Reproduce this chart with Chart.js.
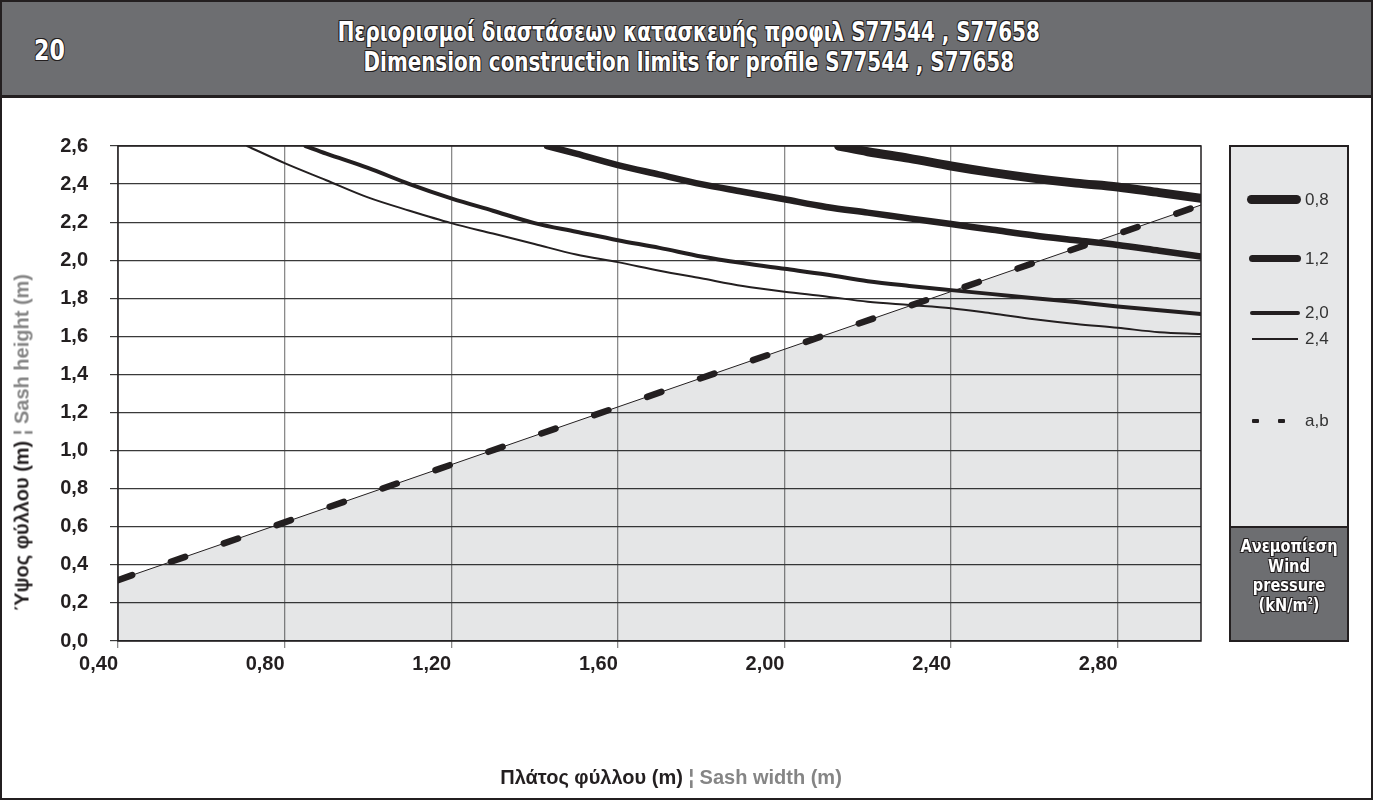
<!DOCTYPE html>
<html>
<head>
<meta charset="utf-8">
<script src="https://cdn.jsdelivr.net/npm/chart.js@4.4.1/dist/chart.umd.min.js"></script>
<style>
  body { margin: 0; width: 1373px; height: 800px; position: relative; background: #fff; overflow: hidden; }
  #frame { position: absolute; left: 0; top: 0; width: 1373px; height: 800px; box-sizing: border-box; border: 2px solid #231f20; }
  #header { position: absolute; left: 0; top: 0; width: 1373px; height: 98px; box-sizing: border-box;
            background: #6d6e71; border: 2px solid #231f20; border-bottom-width: 3px; }
  .outline { color: #fff; font-family: "Liberation Sans Narrow", "DejaVu Sans Condensed", sans-serif; font-weight: bold;
             text-shadow: -1px -1px 0 #231f20, 1px -1px 0 #231f20, -1px 1px 0 #231f20, 1px 1px 0 #231f20, 0 1px 0 #231f20, 0 -1px 0 #231f20; }
  #num { position: absolute; left: 32px; top: 31px; font-size: 29px; transform: scaleX(0.85); transform-origin: left center; }
  #title { position: absolute; left: 0; width: 1373px; top: 15px; text-align: center; font-size: 27px; line-height: 30px;
           transform: scaleX(0.82); transform-origin: 688px 0; }
  #wrap { position: absolute; left: 0; top: 0; }
  #ytitle { position: absolute; left: 22px; top: 443px; width: 460px; margin-left: -230px; margin-top: -12px; text-align: center;
            transform: rotate(-90deg); font: bold 20px "Liberation Sans", Arial, sans-serif; white-space: nowrap; }
  #xtitle { position: absolute; left: 671px; top: 766px; width: 500px; margin-left: -250px; text-align: center;
            font: bold 20px "Liberation Sans", Arial, sans-serif; white-space: nowrap; }
  .dk { color: #231f20; }
  .gr { color: #858585; }
  #legend { position: absolute; left: 1229px; top: 145px; width: 120px; height: 497px; box-sizing: border-box;
            border: 2px solid #231f20; background: #e6e7e8; }
  #legfoot { position: absolute; left: 0; bottom: 0; width: 116px; height: 114px; box-sizing: border-box; border-top: 2px solid #231f20;
             background: #6d6e71; text-align: center; font-size: 18px; line-height: 19.5px; padding-top: 8px; }
  #legfoot div { transform: scaleX(0.9); }
  .ls { position: absolute; background: #231f20; border-radius: 6px; }
  .ll { position: absolute; font: 17px "Liberation Sans", Arial, sans-serif; color: #333; transform: translateY(-50%); }
</style>
</head>
<body>
<div id="wrap"><canvas id="chart" width="1373" height="800"></canvas></div>
<div id="frame"></div>
<div id="header">
  <div id="num" class="outline">20</div>
  <div id="title" class="outline">Περιορισμοί διαστάσεων κατασκευής προφιλ S77544 , S77658<br>Dimension construction limits for profile S77544 , S77658</div>
</div>
<div id="ytitle"><span class="dk">Ύψος φύλλου (m)</span> <span class="gr">¦ Sash height (m)</span></div>
<div id="xtitle"><span class="dk">Πλάτος φύλλου (m)</span> <span class="gr">¦ Sash width (m)</span></div>
<div id="legend">
  <div class="ls" style="left:16px;top:48px;width:54px;height:9px;"></div>
  <div class="ll" style="left:74px;top:53px;">0,8</div>
  <div class="ls" style="left:18px;top:108px;width:52px;height:7px;"></div>
  <div class="ll" style="left:74px;top:112px;">1,2</div>
  <div class="ls" style="left:19px;top:164px;width:50px;height:4px;"></div>
  <div class="ll" style="left:74px;top:166px;">2,0</div>
  <div class="ls" style="left:21px;top:191px;width:46px;height:2px;border-radius:0;"></div>
  <div class="ll" style="left:74px;top:192px;">2,4</div>
  <div class="ls" style="left:21px;top:272px;width:7px;height:4px;border-radius:1px;"></div>
  <div class="ls" style="left:47px;top:272px;width:7px;height:4px;border-radius:1px;"></div>
  <div class="ll" style="left:74px;top:274px;">a,b</div>
  <div id="legfoot" class="outline"><div>Ανεμοπίεση</div><div>Wind</div><div>pressure</div><div>(kN/m<sup style="font-size:9px;line-height:0;">2</sup>)</div></div>
</div>
<script>
// wind pressure curves (kN/m2): sash width -> max sash height
const widths08 = [2.13, 2.20, 2.30, 2.40, 2.50, 2.60, 2.70, 2.80, 2.90, 3.00];
const heights08 = [2.60, 2.57, 2.535, 2.495, 2.46, 2.43, 2.405, 2.385, 2.355, 2.325];

const widths12 = [1.43, 1.50, 1.60, 1.70, 1.80, 1.90, 2.00, 2.10, 2.20, 2.30, 2.40, 2.50, 2.60, 2.70, 2.80, 2.90, 3.00];
const heights12 = [2.60, 2.56, 2.50, 2.45, 2.40, 2.36, 2.32, 2.28, 2.25, 2.22, 2.19, 2.16, 2.13, 2.105, 2.08, 2.05, 2.02];

const widths20 = [0.85, 0.90, 1.00, 1.10, 1.20, 1.30, 1.40, 1.50, 1.60, 1.70, 1.80, 1.90, 2.00, 2.10, 2.20, 2.30, 2.40, 2.50, 2.60, 2.70, 2.80, 2.90, 3.00];
const heights20 = [2.60, 2.56, 2.485, 2.40, 2.325, 2.26, 2.195, 2.15, 2.105, 2.065, 2.02, 1.985, 1.955, 1.925, 1.89, 1.865, 1.843, 1.822, 1.80, 1.78, 1.757, 1.737, 1.717];

const widths24 = [0.71, 0.80, 0.90, 1.00, 1.10, 1.20, 1.30, 1.40, 1.50, 1.60, 1.70, 1.80, 1.90, 2.00, 2.10, 2.20, 2.30, 2.40, 2.50, 2.60, 2.70, 2.80, 2.90, 3.00];
const heights24 = [2.60, 2.51, 2.42, 2.33, 2.26, 2.195, 2.14, 2.085, 2.03, 1.99, 1.945, 1.905, 1.865, 1.835, 1.81, 1.782, 1.765, 1.748, 1.72, 1.69, 1.665, 1.645, 1.622, 1.612];

// a,b limit line
const widthsAB = [0.40, 3.00];
const heightsAB = [0.32, 2.29];

const xTicks = [0.40, 0.80, 1.20, 1.60, 2.00, 2.40, 2.80];
const yTicks = [0.0, 0.2, 0.4, 0.6, 0.8, 1.0, 1.2, 1.4, 1.6, 1.8, 2.0, 2.2, 2.4, 2.6];

function pts(xs, ys) {
  return xs.map((x, i) => ({ x: x, y: ys[i] }));
}

function curve(label, xs, ys, w, order) {
  return {
    label: label,
    data: pts(xs, ys),
    showLine: true,
    borderColor: "#231f20",
    borderWidth: w,
    borderCapStyle: "round",
    borderJoinStyle: "round",
    pointRadius: 0,
    cubicInterpolationMode: "monotone",
    fill: false,
    order: order
  };
}

const frameBox = {
  id: "frameBox",
  beforeDatasetsDraw(chart) {
    const a = chart.chartArea, ctx = chart.ctx;
    ctx.save();
    ctx.strokeStyle = "#231f20";
    ctx.lineWidth = 1.5;
    ctx.strokeRect(a.left, a.top, a.right - a.left, a.bottom - a.top);
    ctx.restore();
  }
};

const grafico = new Chart(document.getElementById("chart"), {
  type: "scatter",
  data: {
    datasets: [
      {
        label: "area",
        data: pts(widthsAB, heightsAB),
        showLine: true,
        borderColor: "#231f20",
        borderWidth: 1,
        pointRadius: 0,
        fill: "origin",
        backgroundColor: "rgba(0,10,20,0.1)",
        order: 10
      },
      {
        label: "a,b",
        data: pts(widthsAB, heightsAB),
        showLine: true,
        borderColor: "#231f20",
        borderWidth: 6.5,
        borderDash: [15, 41],
        borderCapStyle: "round",
        pointRadius: 0,
        fill: false,
        order: 1
      },
      curve("2,4", widths24, heights24, 2, 4),
      curve("2,0", widths20, heights20, 4, 3),
      curve("1,2", widths12, heights12, 6.5, 2),
      curve("0,8", widths08, heights08, 9, 0)
    ]
  },
  options: {
    responsive: false,
    animation: false,
    layout: { padding: { left: 0, top: 146, right: 172, bottom: 119 } },
    plugins: { legend: { display: false }, tooltip: { enabled: false } },
    scales: {
      x: {
        type: "linear",
        min: 0.4,
        max: 3.0,
        afterFit: (s) => { s.height = 40; },
        afterBuildTicks: (s) => { s.ticks = xTicks.map(v => ({ value: v })); },
        ticks: {
          align: "end",
          padding: 4,
          color: "#231f20",
          font: { family: "Liberation Sans", size: 20, weight: "bold" },
          callback: (v) => v.toFixed(2).replace(".", ",")
        },
        grid: { color: "#8a8a8a", lineWidth: 1.3, tickLength: 7 },
        border: { display: false }
      },
      y: {
        min: 0,
        max: 2.6,
        afterFit: (s) => { s.width = 118; },
        afterBuildTicks: (s) => { s.ticks = yTicks.map(v => ({ value: v })); },
        ticks: {
          padding: 22,
          color: "#231f20",
          font: { family: "Liberation Sans", size: 20, weight: "bold" },
          callback: (v) => v.toFixed(1).replace(".", ",")
        },
        grid: { color: "#3a3a3a", lineWidth: 1.2, tickLength: 8 },
        border: { display: false }
      }
    }
  },
  plugins: [frameBox]
});
</script>
</body>
</html>
